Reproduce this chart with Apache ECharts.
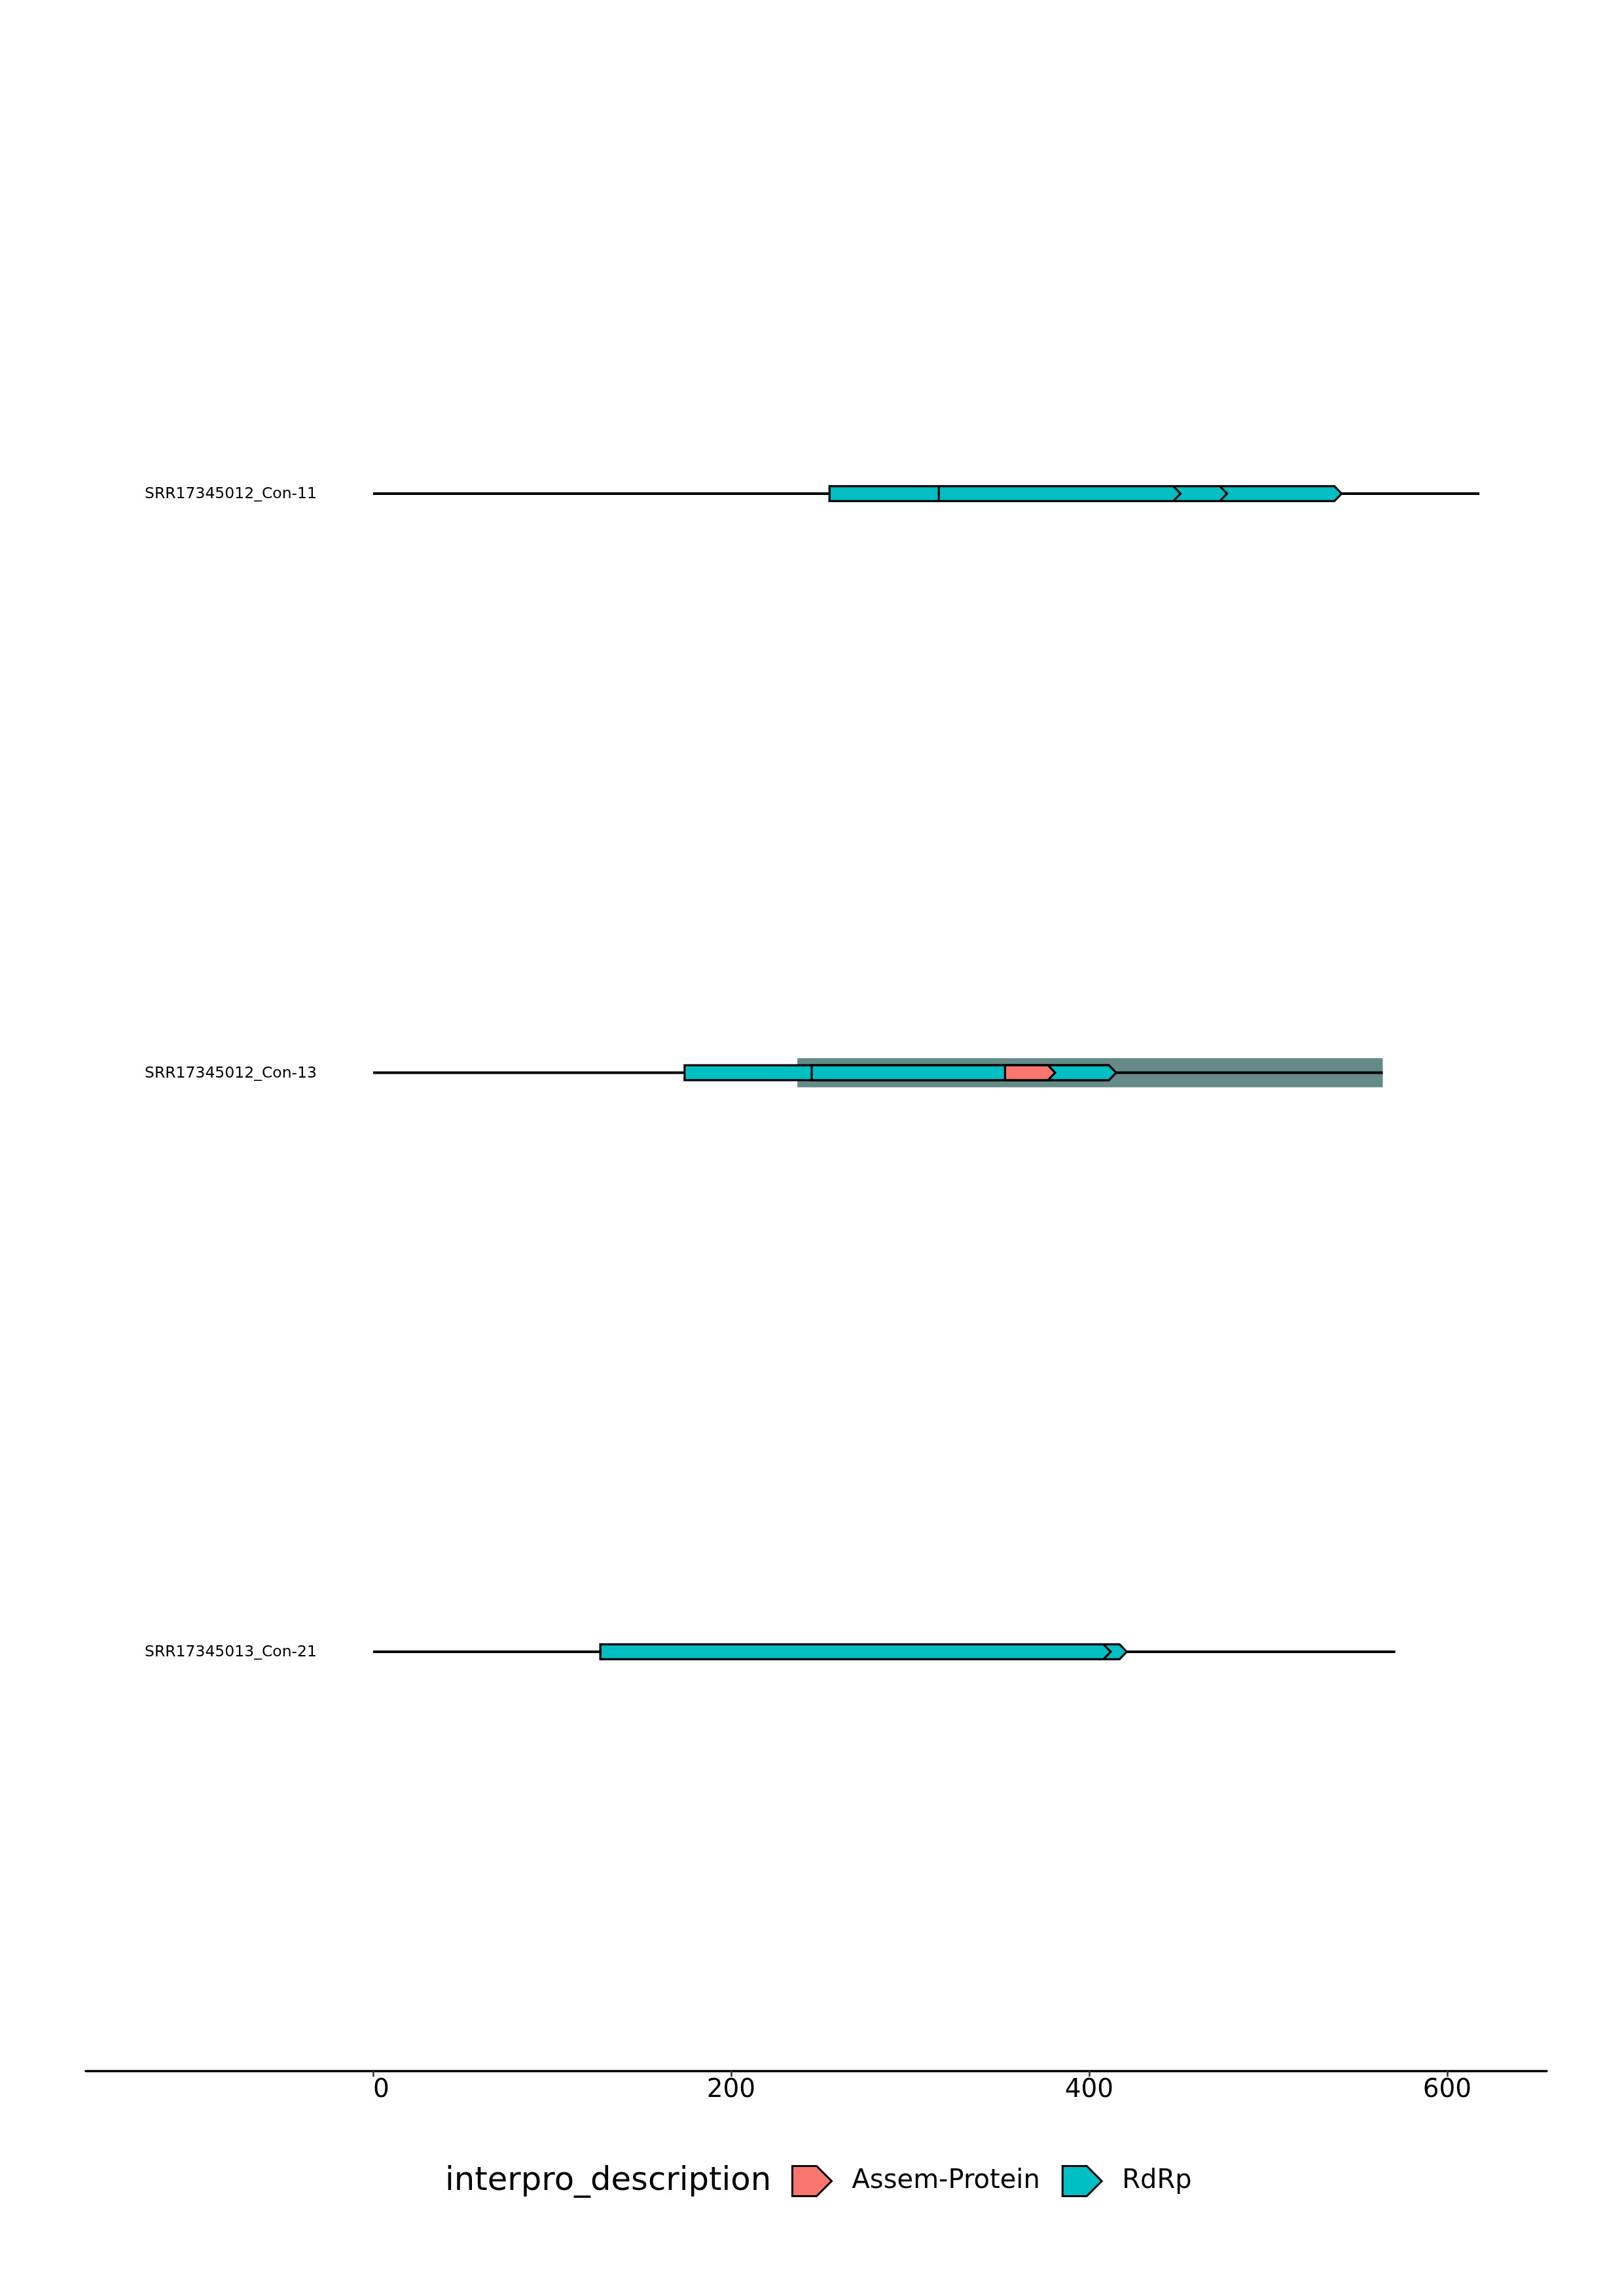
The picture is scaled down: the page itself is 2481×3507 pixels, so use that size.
<!DOCTYPE html>
<html>
<head>
<meta charset="utf-8">
<script src="https://cdn.jsdelivr.net/npm/echarts@6/dist/echarts.min.js"></script>
<style>
html,body{margin:0;padding:0;background:#fff;}
#chart{width:2481px;height:3507px;}
</style>
</head>
<body>
<div id="chart"></div>
<script>
// ---- data ----
const contigs = ['SRR17345012_Con-11', 'SRR17345012_Con-13', 'SRR17345013_Con-21'];
const contigLength = [618, 564, 571];
const contigRow = [3, 2, 1];

const geneContig = ['SRR17345012_Con-11', 'SRR17345012_Con-11', 'SRR17345012_Con-11',
                    'SRR17345012_Con-13', 'SRR17345012_Con-13', 'SRR17345012_Con-13',
                    'SRR17345013_Con-21', 'SRR17345013_Con-21'];
const geneStart = [255, 255, 316, 174, 245, 353, 127, 127];
const geneEnd   = [541, 477, 451, 415, 415, 381, 421, 412];
const geneType  = ['RdRp', 'RdRp', 'RdRp', 'RdRp', 'RdRp', 'Assem-Protein', 'RdRp', 'RdRp'];

const regionContig = ['SRR17345012_Con-13'];
const regionStart = [237];
const regionEnd = [564];

const xTickValues = [0, 200, 400, 600];
const legendTypes = ['Assem-Protein', 'RdRp'];

// ---- styles ----
const typeColor = {'Assem-Protein': '#F8766D', 'RdRp': '#00BFC4'};
const FONT = 'DejaVu Sans';

const rowOf = name => contigRow[contigs.indexOf(name)];

const backboneData = contigs.map((c, i) => [0, contigLength[i], contigRow[i], c]);
const regionData = regionContig.map((c, i) => [regionStart[i], regionEnd[i], rowOf(c)]);
function genesOf(type) {
  const out = [];
  geneStart.forEach((s, i) => {
    if (geneType[i] === type) out.push([s, geneEnd[i], rowOf(geneContig[i]), geneContig[i]]);
  });
  return out;
}

function renderGene(color) {
  return function (params, api) {
    const s = api.value(0), e = api.value(1), y = api.value(2);
    const p0 = api.coord([s, y]);
    const p1 = api.coord([e, y]);
    const h = 11.3, aw = 11;
    const xb = Math.max(p0[0], p1[0] - aw);
    return {
      type: 'polygon',
      shape: {points: [[p0[0], p0[1] - h], [xb, p0[1] - h], [p1[0], p0[1]], [xb, p0[1] + h], [p0[0], p0[1] + h]]},
      style: {fill: color, stroke: '#000', lineWidth: 3.2, lineJoin: 'miter'}
    };
  };
}

const chart = echarts.init(document.getElementById('chart'), null, {renderer: 'canvas'});
chart.setOption({
  backgroundColor: '#ffffff',
  animation: false,
  grid: {left: 131, right: 118, top: 100, bottom: 344, containLabel: false},
  xAxis: {
    type: 'value', min: -160.5, max: 655.6,
    splitLine: {show: false},
    axisLine: {show: true, onZero: false, lineStyle: {color: '#000', width: 3.3}},
    axisTick: {show: true, length: 9, lineStyle: {color: '#333', width: 2.5}, customValues: xTickValues},
    axisLabel: {show: true, margin: 10, color: '#000', fontFamily: FONT, fontSize: 39, customValues: xTickValues,
                formatter: v => String(v).padStart(3, ' ')}
  },
  yAxis: {
    type: 'value', min: 0.27643, max: 3.7394,
    show: false, splitLine: {show: false}
  },
  legend: {
    data: legendTypes.map(t => ({name: t, itemStyle: {color: typeColor[t], borderColor: '#000', borderWidth: 3}})),
    left: 1204, top: 3302,
    orient: 'horizontal',
    icon: 'path://M0,0 L37,0 L60,23 L37,46 L0,46 Z',
    itemWidth: 60, itemHeight: 46, itemGap: 33,
    textStyle: {fontFamily: FONT, fontSize: 40, color: '#000', padding: [0, 0, 0, 26]},
    selectedMode: false
  },
  graphic: [{
    type: 'text', left: 680, top: 3307,
    style: {text: 'interpro_description', fontFamily: FONT, fontSize: 49.7, fill: '#000'}
  }],
  series: [
    {
      type: 'custom', name: 'region', silent: true,
      data: regionData,
      renderItem: function (params, api) {
        const p0 = api.coord([api.value(0), api.value(2)]);
        const p1 = api.coord([api.value(1), api.value(2)]);
        return {type: 'rect', shape: {x: p0[0], y: p0[1] - 22.2, width: p1[0] - p0[0], height: 44.4},
                style: {fill: '#658B88'}};
      }
    },
    {
      type: 'custom', name: 'backbone', silent: true,
      data: backboneData,
      renderItem: function (params, api) {
        const p0 = api.coord([api.value(0), api.value(2)]);
        const p1 = api.coord([api.value(1), api.value(2)]);
        return {type: 'group', children: [
          {type: 'line', shape: {x1: p0[0], y1: p0[1], x2: p1[0], y2: p1[1]},
           style: {stroke: '#000', lineWidth: 4}},
          {type: 'text', x: p0[0] - 86, y: p0[1] + 1,
           style: {text: contigs[params.dataIndex], align: 'right', verticalAlign: 'middle',
                   fontFamily: FONT, fontSize: 23.5, fill: '#000'}}
        ]};
      }
    },
    {
      type: 'custom', name: 'RdRp', data: genesOf('RdRp'),
      itemStyle: {color: typeColor['RdRp']},
      renderItem: renderGene(typeColor['RdRp'])
    },
    {
      type: 'custom', name: 'Assem-Protein', data: genesOf('Assem-Protein'),
      itemStyle: {color: typeColor['Assem-Protein']},
      renderItem: renderGene(typeColor['Assem-Protein'])
    }
  ]
});
</script>
</body>
</html>
